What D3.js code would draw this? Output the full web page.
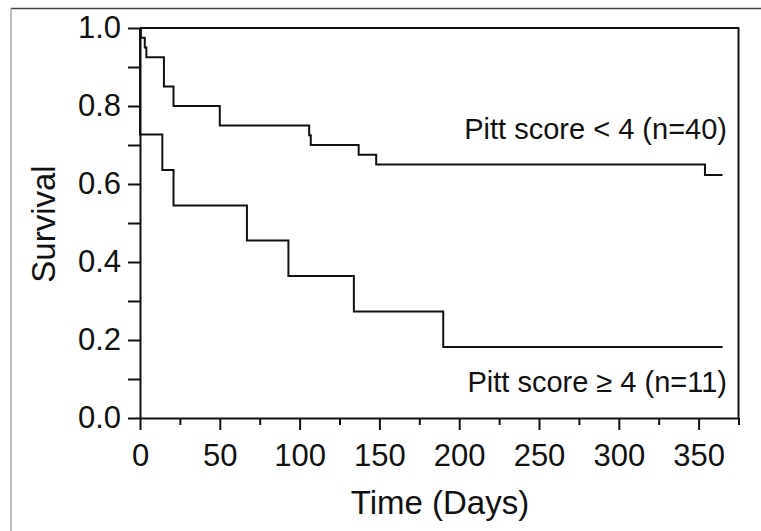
<!DOCTYPE html>
<html>
<head>
<meta charset="utf-8">
<script src="https://cdn.jsdelivr.net/npm/d3@7"></script>
<style>
  body { margin: 0; background: #fff; }
  svg { display: block; font-family: "Liberation Sans", Arial, sans-serif; }
</style>
</head>
<body>
<div id="chart"></div>
<script>
// Kaplan-Meier steps
var lowDays  = [0, 0.5, 3, 4, 15, 21, 50, 106, 107, 137, 148, 354, 365];
var lowSurv  = [1.0, 0.975, 0.95, 0.925, 0.85, 0.80, 0.75, 0.725, 0.70, 0.675, 0.65, 0.623, 0.623];
var highDays = [0, 0, 14, 21, 67, 93, 134, 190, 365];
var highSurv = [1.0, 0.727, 0.636, 0.545, 0.455, 0.364, 0.273, 0.182, 0.182];

var xMajor = [0, 50, 100, 150, 200, 250, 300, 350];
var xMinor = [25, 75, 125, 175, 225, 275, 325, 375];
var yMajor = [0.0, 0.2, 0.4, 0.6, 0.8, 1.0];
var yMinor = [0.1, 0.3, 0.5, 0.7, 0.9];

var labels = ["Pitt score < 4 (n=40)", "Pitt score \u2265 4 (n=11)"];

var width = 761, height = 531;
var ink = "#111";

var svg = d3.select("#chart")
  .append("svg")
    .attr("width", width)
    .attr("height", height);

// outer frame bits (top + left edge of the figure)
svg.append("line")
  .attr("x1", 11).attr("x2", width).attr("y1", 8.5).attr("y2", 8.5)
  .attr("stroke", "#444").attr("stroke-width", 1.5);
svg.append("line")
  .attr("x1", 11).attr("x2", 11).attr("y1", 8.5).attr("y2", height)
  .attr("stroke", "#aaa").attr("stroke-width", 1.5);

var x = d3.scaleLinear().domain([0, 375]).range([140, 738.5]);
var y = d3.scaleLinear().domain([0, 1]).range([418, 28]);

// x axis
svg.append("g")
  .attr("transform", "translate(0," + y(0) + ")")
  .call(d3.axisBottom(x).tickValues(xMajor).tickSize(12).tickSizeOuter(0).tickPadding(14).tickFormat(d3.format("d")));
svg.append("g")
  .attr("transform", "translate(0," + y(0) + ")")
  .call(d3.axisBottom(x).tickValues(xMinor).tickSize(7).tickSizeOuter(0).tickFormat(""))
  .select(".domain").remove();

// y axis
svg.append("g")
  .attr("transform", "translate(" + x(0) + ",0)")
  .call(d3.axisLeft(y).tickValues(yMajor).tickSize(12).tickSizeOuter(0).tickPadding(7).tickFormat(d3.format(".1f")));
svg.append("g")
  .attr("transform", "translate(" + x(0) + ",0)")
  .call(d3.axisLeft(y).tickValues(yMinor).tickSize(12).tickSizeOuter(0).tickFormat(""))
  .select(".domain").remove();

svg.selectAll(".domain, .tick line")
  .attr("stroke", ink)
  .attr("stroke-width", 2);
svg.selectAll(".tick text")
  .attr("fill", ink)
  .style("font-size", "31px");

// top and right edges of the plot box
svg.append("path")
  .attr("d", "M" + x(0) + "," + y(1) + "H" + x(375) + "V" + y(0))
  .attr("fill", "none")
  .attr("stroke", ink)
  .attr("stroke-width", 2);

// survival curves
var line = d3.line()
  .x(function(d){ return x(d[0]); })
  .y(function(d){ return y(d[1]); })
  .curve(d3.curveStepAfter);

var lowPts = lowDays.map(function(d, i){ return [d, lowSurv[i]]; });
var highPts = highDays.map(function(d, i){ return [d, highSurv[i]]; });

[lowPts, highPts].forEach(function(pts){
  svg.append("path")
    .datum(pts)
    .attr("d", line)
    .attr("fill", "none")
    .attr("stroke", ink)
    .attr("stroke-width", 2);
});

// curve labels
svg.append("text")
  .attr("x", 727).attr("y", 138.5)
  .attr("text-anchor", "end")
  .style("font-size", "29px")
  .attr("fill", ink)
  .text(labels[0]);
svg.append("text")
  .attr("x", 727).attr("y", 391.5)
  .attr("text-anchor", "end")
  .style("font-size", "29px")
  .attr("fill", ink)
  .text(labels[1]);

// axis titles
svg.append("text")
  .attr("x", 440).attr("y", 514)
  .attr("text-anchor", "middle")
  .style("font-size", "33px")
  .attr("fill", ink)
  .text("Time (Days)");
svg.append("text")
  .attr("transform", "translate(55,224) rotate(-90)")
  .attr("text-anchor", "middle")
  .style("font-size", "33px")
  .attr("fill", ink)
  .text("Survival");
</script>
</body>
</html>
